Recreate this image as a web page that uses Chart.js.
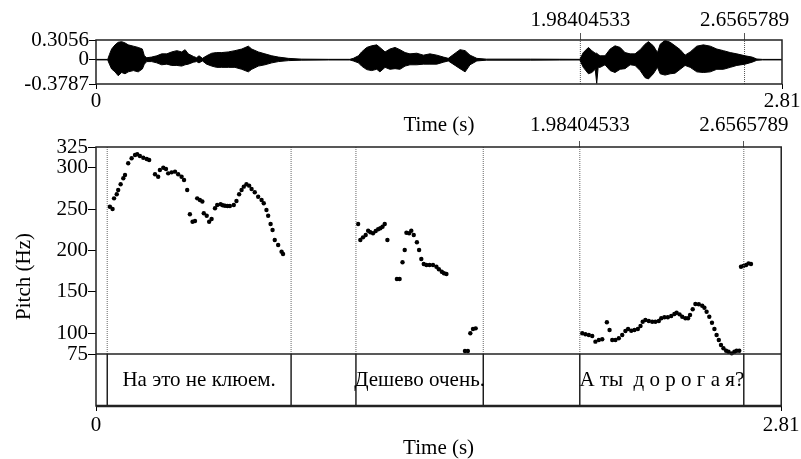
<!DOCTYPE html>
<html><head><meta charset="utf-8">
<script src="https://cdn.jsdelivr.net/npm/chart.js@4.4.1/dist/chart.umd.min.js"></script>
<style>
html,body{margin:0;padding:0;background:#fff;width:801px;height:459px;overflow:hidden}
canvas{position:absolute;left:0;top:0}
</style></head><body>
<canvas id="wave" width="801" height="459"></canvas>
<canvas id="pitch" width="801" height="459"></canvas>
<script>
// ---- data ----
const timeTicks = [0, 2.81];
const selTimes = [1.98404533, 2.6565789];
const ampTicks = [-0.3787, 0, 0.3056];
const pitchTicks = [75, 100, 150, 200, 250, 300, 325];

const wavT = [0,0.048,0.055,0.064,0.078,0.091,0.105,0.119,0.132,0.153,0.173,0.190,0.198,0.208,0.228,0.249,0.269,0.290,0.310,0.331,0.351,0.365,0.378,0.399,0.412,0.422,0.436,0.453,0.474,0.494,0.515,0.542,0.569,0.597,0.624,0.638,0.665,0.692,0.720,0.747,0.788,0.843,0.952,1.040,1.054,1.075,1.088,1.109,1.129,1.150,1.163,1.184,1.204,1.225,1.245,1.266,1.286,1.314,1.341,1.368,1.396,1.423,1.443,1.471,1.491,1.512,1.532,1.560,1.600,1.780,1.900,1.982,1.996,2.017,2.031,2.045,2.051,2.057,2.065,2.085,2.106,2.126,2.147,2.167,2.188,2.208,2.229,2.249,2.263,2.283,2.300,2.311,2.331,2.352,2.372,2.393,2.413,2.434,2.461,2.488,2.516,2.543,2.570,2.598,2.625,2.659,2.687,2.707,2.730,2.81];
const wavHi = [.004,.004,.08,.165,.23,.27,.28,.26,.23,.21,.19,.165,.06,.03,.04,.06,.09,.09,.12,.14,.12,.155,.09,.05,.03,.06,.02,.06,.10,.11,.11,.12,.14,.165,.21,.165,.12,.09,.06,.04,.02,.008,.005,.005,.02,.06,.12,.19,.215,.23,.19,.12,.165,.19,.155,.11,.09,.10,.07,.09,.07,.04,.02,.10,.155,.14,.07,.02,.008,.008,.006,.005,.11,.19,.14,.10,.10,.08,.06,.06,.165,.215,.19,.11,.09,.09,.155,.24,.28,.215,.11,.24,.30,.27,.215,.155,.07,.12,.21,.23,.21,.165,.14,.11,.09,.06,.04,.01,.004,.004];
const wavLo = [-.004,-.004,-.07,-.145,-.19,-.25,-.20,-.22,-.19,-.17,-.19,-.145,-.07,-.03,-.03,-.05,-.08,-.07,-.09,-.09,-.10,-.08,-.07,-.04,-.03,-.05,-.02,-.07,-.10,-.12,-.12,-.12,-.12,-.15,-.19,-.15,-.10,-.08,-.05,-.03,-.015,-.008,-.005,-.005,-.02,-.05,-.10,-.155,-.17,-.15,-.19,-.12,-.15,-.14,-.15,-.10,-.08,-.08,-.07,-.07,-.07,-.04,-.02,-.09,-.14,-.19,-.08,-.02,-.008,-.008,-.006,-.005,-.12,-.22,-.20,-.15,-.37,-.12,-.12,-.08,-.17,-.20,-.15,-.14,-.08,-.09,-.17,-.28,-.30,-.22,-.12,-.22,-.24,-.22,-.21,-.15,-.09,-.12,-.19,-.20,-.19,-.15,-.15,-.12,-.09,-.07,-.04,-.01,-.004,-.004];

const pitchT = [0.057,0.068,0.074,0.085,0.091,0.101,0.112,0.119,0.132,0.146,0.160,0.169,0.180,0.194,0.208,0.218,
0.242,0.255,0.262,0.276,0.287,0.296,0.310,0.324,0.337,0.351,0.361,0.374,
0.385,0.396,0.406,0.415,0.426,0.436,0.442,0.454,0.464,0.474,0.488,0.497,0.511,0.520,0.529,0.539,0.549,0.565,0.576,0.587,0.597,0.606,0.617,0.628,0.638,0.651,0.665,0.679,0.688,0.699,0.706,0.716,0.724,0.733,0.747,0.761,0.767,
1.075,1.084,1.095,1.106,1.116,1.125,1.136,1.147,1.157,1.166,1.175,1.184,1.195,
1.234,1.245,1.257,1.266,1.273,1.284,1.293,1.303,1.316,1.325,1.334,1.344,1.355,1.368,1.382,1.396,1.406,1.418,1.427,1.437,
1.513,1.525,1.535,1.546,1.557,
1.994,2.007,2.021,2.035,2.048,2.062,2.076,2.095,2.106,2.117,2.130,2.144,2.158,2.171,2.182,2.195,2.208,2.222,2.233,2.242,2.253,2.267,2.281,2.294,2.308,2.318,2.331,2.345,2.359,2.372,2.381,2.393,2.404,2.417,2.428,2.436,2.447,2.458,2.472,2.486,2.495,2.504,2.515,2.526,2.536,2.545,2.554,2.563,2.573,2.584,2.594,2.607,2.618,2.627,2.638,
2.645,2.655,2.666,2.676,2.686];
const pitchHz = [252.9,250.1,263.0,267.9,273.1,280.0,287.2,291.2,305.3,311.4,315.3,316.2,314.1,312.1,310.5,309.3,
292.0,289.1,297.2,300.0,298.4,293.2,294.4,295.2,292.0,289.1,285.1,273.1,
243.7,234.8,235.6,263.0,261.0,259.2,244.9,242.0,234.8,238.0,251.0,255.0,255.8,254.6,254.1,253.7,253.7,255.0,259.8,267.9,273.1,277.1,280.0,278.3,274.3,270.3,265.0,261.0,257.0,248.9,242.0,232.0,224.8,212.7,206.6,198.6,195.8,
232.0,212.7,215.9,218.7,223.9,222.0,220.8,223.6,225.6,226.8,228.7,232.0,212.7,
165.6,165.6,185.8,200.6,221.5,220.8,223.9,218.7,209.9,200.6,189.7,183.7,182.5,182.5,182.5,180.4,177.3,174.4,172.5,171.6,
78.6,78.6,100.0,105.2,106.0,
100.0,98.8,97.9,96.7,89.9,91.9,92.8,113.3,104.0,91.9,91.9,94.0,97.9,102.8,105.2,103.1,104.0,105.2,108.8,114.0,116.1,114.9,114.0,114.0,114.9,118.1,119.3,119.3,120.9,123.3,124.9,122.9,120.0,118.1,118.1,122.1,129.0,135.4,135.0,133.3,130.9,126.1,120.0,112.8,105.2,97.9,91.9,85.9,81.9,79.0,77.8,75.8,77.8,79.0,79.0,
180.4,181.3,182.5,184.5,183.7];

const tierBounds = [0.046, 0.80, 1.066, 1.588, 1.98404533, 2.6565789];
const tierLabels = ['На это не клюем.', 'Дешево очень.', 'А ты  д о р о г а я?'];
const tierLabelStart = [0.046, 1.066, 1.98404533];
const tierLabelEnd = [0.80, 1.588, 2.6565789];

// ---- setup ----
const FONT = "'Liberation Serif', 'Times New Roman', serif";
Chart.defaults.font.family = FONT;
Chart.defaults.font.size = 21;
Chart.defaults.color = '#000';

const fixedTicks = vals => s => { s.ticks = vals.map(v => ({value: v})); };
const pts = (xs, ys) => xs.map((x, i) => ({x, y: ys[i]}));
const vlines = (ts, y0, y1) => ts.flatMap(t => [{x: t, y: y0}, {x: t, y: y1}, {x: t, y: null}]);

const framePlugin = {
  id: 'frame',
  afterDatasetsDraw(chart) {
    const {ctx, chartArea: a} = chart;
    ctx.save();
    ctx.strokeStyle = '#222';
    ctx.lineWidth = 1.5;
    ctx.strokeRect(a.left, a.top, a.right - a.left, a.bottom - a.top);
    const yT = chart.scales.yTier;
    if (yT) {
      const yp = chart.scales.y.getPixelForValue(pitchTicks[0]);
      ctx.beginPath(); ctx.moveTo(a.left, yp); ctx.lineTo(a.right, yp); ctx.stroke();
      ctx.lineWidth = 2.5;
      ctx.beginPath(); ctx.moveTo(a.left, a.bottom); ctx.lineTo(a.right, a.bottom); ctx.stroke();
      ctx.fillStyle = '#000';
      ctx.font = '21px ' + FONT;
      ctx.textAlign = 'center';
      ctx.textBaseline = 'middle';
      const xs = chart.scales.x;
      tierLabels.forEach((txt, i) => {
        const xm = xs.getPixelForValue((tierLabelStart[i] + tierLabelEnd[i]) / 2);
        ctx.fillText(txt, xm, yT.getPixelForValue(0.5));
      });
    }
    ctx.restore();
  }
};

const common = {
  responsive: false, animation: false, devicePixelRatio: 1, events: [],
  plugins: {legend: {display: false}, tooltip: {enabled: false}}
};

// ---- waveform ----
new Chart(document.getElementById('wave'), {
  type: 'scatter',
  data: {datasets: [
    {data: pts(wavT, wavHi), showLine: true, borderColor: '#000', borderWidth: 1, pointRadius: 0, fill: false, xAxisID: 'x', yAxisID: 'y'},
    {data: pts(wavT, wavLo), showLine: true, borderColor: '#000', borderWidth: 1, pointRadius: 0, fill: '-1', backgroundColor: '#000', xAxisID: 'x', yAxisID: 'y'},
    {data: vlines(selTimes, ampTicks[0], ampTicks[2]), showLine: true, borderColor: '#555', borderWidth: 1, borderDash: [1, 1], pointRadius: 0, spanGaps: false, xAxisID: 'x', yAxisID: 'y'}
  ]},
  options: Object.assign({}, common, {
    layout: {padding: {left: 0, right: 19, top: 0, bottom: 315}},
    scales: {
      x: {type: 'linear', position: 'bottom', min: timeTicks[0], max: timeTicks[1],
        afterBuildTicks: fixedTicks(timeTicks), afterFit: s => { s.height = 60; },
        ticks: {padding: 0, maxRotation: 0, minRotation: 0, autoSkip: false, callback: v => String(v)},
        grid: {drawOnChartArea: false, tickLength: 5, color: '#000'}, border: {display: false},
        title: {display: true, text: 'Time (s)', padding: {top: 0, bottom: 6.4}}},
      x2: {type: 'linear', position: 'top', min: timeTicks[0], max: timeTicks[1],
        afterBuildTicks: fixedTicks(selTimes), afterFit: s => { s.height = 40; },
        ticks: {padding: 0.4, maxRotation: 0, minRotation: 0, autoSkip: false, callback: v => String(v)},
        grid: {drawOnChartArea: false, tickLength: 7, color: '#555'}, border: {display: false}},
      y: {type: 'linear', position: 'left', min: ampTicks[0], max: ampTicks[2],
        afterBuildTicks: fixedTicks(ampTicks), afterFit: s => { s.width = 96; },
        ticks: {padding: 0, autoSkip: false, callback: v => String(v)},
        grid: {drawOnChartArea: false, tickLength: 7, color: '#000'}, border: {display: false}}
    }
  }),
  plugins: [framePlugin]
});

// ---- pitch + tier ----
new Chart(document.getElementById('pitch'), {
  type: 'scatter',
  data: {datasets: [
    {data: vlines(tierBounds, pitchTicks[0], pitchTicks[pitchTicks.length - 1]), showLine: true, borderColor: '#666', borderWidth: 1, borderDash: [1, 1], pointRadius: 0, spanGaps: false, xAxisID: 'x', yAxisID: 'y'},
    {data: vlines(tierBounds, 0, 1), showLine: true, borderColor: '#000', borderWidth: 1.3, pointRadius: 0, spanGaps: false, xAxisID: 'x', yAxisID: 'yTier'},
    {data: pts(pitchT, pitchHz), showLine: false, pointRadius: 2.2, pointBackgroundColor: '#000', pointBorderWidth: 0, clip: 4, xAxisID: 'x', yAxisID: 'y'}
  ]},
  options: Object.assign({}, common, {
    layout: {padding: {left: 0, right: 19, top: 0, bottom: 0}},
    scales: {
      x: {type: 'linear', position: 'bottom', min: timeTicks[0], max: timeTicks[1],
        afterBuildTicks: fixedTicks(timeTicks), afterFit: s => { s.height = 53; },
        ticks: {padding: 1.4, maxRotation: 0, minRotation: 0, autoSkip: false, callback: v => String(v)},
        grid: {drawOnChartArea: false, tickLength: 5, color: '#000'}, border: {display: false},
        title: {display: true, text: 'Time (s)', font: {lineHeight: 1}, padding: {top: 0, bottom: 0}}},
      x2: {type: 'linear', position: 'top', min: timeTicks[0], max: timeTicks[1],
        afterBuildTicks: fixedTicks(selTimes), afterFit: s => { s.height = 147; },
        ticks: {padding: 3.4, maxRotation: 0, minRotation: 0, autoSkip: false, callback: v => String(v)},
        grid: {drawOnChartArea: false, tickLength: 6, color: '#555'}, border: {display: false}},
      yTitle: {type: 'linear', position: 'left', weight: 10, afterFit: s => { s.width = 40; },
        ticks: {display: false}, grid: {display: false}, border: {display: false},
        title: {display: true, text: 'Pitch (Hz)', padding: {top: 11.4, bottom: 0}}},
      y: {type: 'linear', position: 'left', stack: 'v', stackWeight: 207, weight: 1,
        min: pitchTicks[0], max: pitchTicks[pitchTicks.length - 1],
        afterBuildTicks: fixedTicks(pitchTicks), afterFit: s => { s.width = 56; },
        ticks: {padding: 0, autoSkip: false, callback: v => String(v)},
        grid: {drawOnChartArea: false, tickLength: 8, color: '#000'}, border: {display: false}},
      yTier: {type: 'linear', position: 'left', stack: 'v', stackWeight: 52, weight: 0, min: 0, max: 1,
        afterFit: s => { s.width = 56; },
        ticks: {display: false}, grid: {display: false}, border: {display: false}}
    }
  }),
  plugins: [framePlugin]
});
</script>
</body></html>
